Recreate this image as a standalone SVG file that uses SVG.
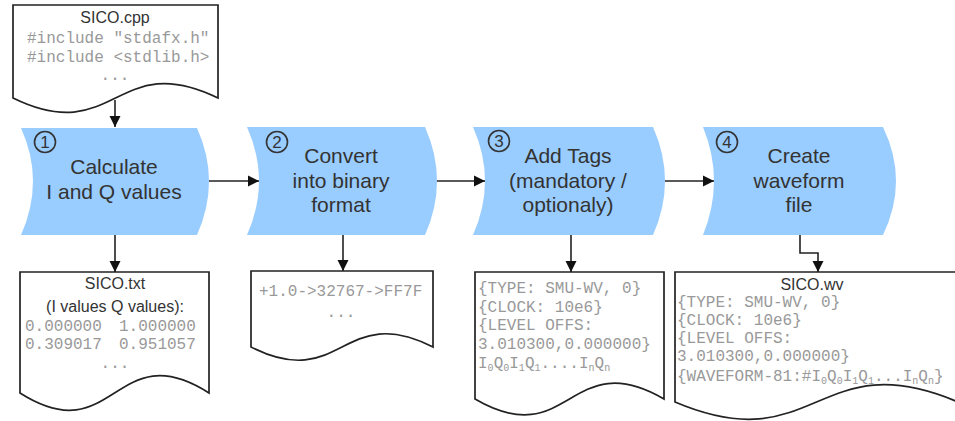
<svg xmlns="http://www.w3.org/2000/svg" width="955" height="421" viewBox="0 0 955 421">
<defs>
<style>
.step{fill:#99ccff;stroke:none}
.doc{fill:#fff;stroke:#222;stroke-width:1.7}
.lbl{font-family:"Liberation Sans",Arial,sans-serif;font-size:21px;fill:#333;text-anchor:middle}
.num{font-family:"Liberation Sans",Arial,sans-serif;font-size:17px;fill:#333;text-anchor:middle}
.ring{fill:none;stroke:#333;stroke-width:1.6}
.title{font-family:"Liberation Sans",Arial,sans-serif;font-size:16px;fill:#333;text-anchor:middle}
.mono{font-family:"Liberation Mono","Courier New",monospace;font-size:16px;fill:#999}
.sub{font-size:10px}
.conn{fill:none;stroke:#222;stroke-width:1.6}
</style>
<marker id="arr" viewBox="0 0 10 10" refX="10" refY="5" markerWidth="11" markerHeight="12" markerUnits="userSpaceOnUse" orient="auto">
<path d="M0,0 L10,5 L0,10 Z" fill="#111"/>
</marker>
</defs>
<rect width="955" height="421" fill="#fff"/>

<g id="doc-cpp">
<path class="doc" d="M13,5 H218 V98 C115.5,48 115.5,148 13,98 Z"/>
<text class="title" x="115" y="23">SICO.cpp</text>
<text class="mono" x="27" y="43" font-size="15.5">#include "stdafx.h"</text>
<text class="mono" x="27" y="62" font-size="15.5">#include &lt;stdlib.h&gt;</text>
<text class="mono" x="115" y="80" text-anchor="middle">...</text>
</g>

<g id="step1">
<path class="step" d="M21,128 H197 Q221,181 197,235 H21 Q45,181 21,128 Z"/>
<circle class="ring" cx="45" cy="142" r="10.5"/>
<text class="num" x="45" y="148">1</text>
<text class="lbl" x="114" y="174">Calculate</text>
<text class="lbl" x="114" y="199">I and Q values</text>
</g>

<g id="step2">
<path class="step" d="M247,127 H425 Q449,181 425,235 H247 Q271,181 247,127 Z"/>
<circle class="ring" cx="277" cy="142" r="10.5"/>
<text class="num" x="277" y="148">2</text>
<text class="lbl" x="341" y="163">Convert</text>
<text class="lbl" x="341" y="188">into binary</text>
<text class="lbl" x="341" y="212">format</text>
</g>

<g id="step3">
<path class="step" d="M473,127 H653 Q677,181 653,235 H473 Q497,181 473,127 Z"/>
<circle class="ring" cx="499" cy="141" r="10.5"/>
<text class="num" x="499" y="147">3</text>
<text class="lbl" x="568" y="163">Add Tags</text>
<text class="lbl" x="568" y="188">(mandatory /</text>
<text class="lbl" x="568" y="212">optionaly)</text>
</g>

<g id="step4">
<path class="step" d="M703,127 H883 Q909,181 883,235 H703 Q725,181 703,127 Z"/>
<circle class="ring" cx="727" cy="142" r="10.5"/>
<text class="num" x="727" y="148">4</text>
<text class="lbl" x="799" y="163">Create</text>
<text class="lbl" x="799" y="188">waveform</text>
<text class="lbl" x="799" y="212">file</text>
</g>

<g id="doc-txt">
<path class="doc" d="M20,272 H209 V393 C114.5,333 114.5,453 20,393 Z"/>
<text class="title" x="115" y="289">SICO.txt</text>
<text class="title" x="115" y="312">(I values Q values):</text>
<text class="mono" x="25" y="331">0.000000</text>
<text class="mono" x="119" y="331">1.000000</text>
<text class="mono" x="25" y="349">0.309017</text>
<text class="mono" x="119" y="349">0.951057</text>
<text class="mono" x="115" y="368" text-anchor="middle" font-size="12">...</text>
</g>

<g id="doc-bin">
<path class="doc" d="M251,271 H433 V347 C342,301 342,393 251,347 Z"/>
<text class="mono" x="259" y="296">+1.0-&gt;32767-&gt;FF7F</text>
<text class="mono" x="341" y="317" text-anchor="middle">...</text>
</g>

<g id="doc-tags">
<path class="doc" d="M475,272 H664 V399 C569.5,344 569.5,454 475,399 Z"/>
<text class="mono" x="478" y="293">{TYPE: SMU-WV, 0}</text>
<text class="mono" x="478" y="312">{CLOCK: 10e6}</text>
<text class="mono" x="478" y="330">{LEVEL OFFS:</text>
<text class="mono" x="478" y="349">3.010300,0.000000}</text>
<text class="mono" x="478" y="368">I<tspan class="sub" dy="3">0</tspan><tspan dy="-3">Q</tspan><tspan class="sub" dy="3">0</tspan><tspan dy="-3">I</tspan><tspan class="sub" dy="3">1</tspan><tspan dy="-3">Q</tspan><tspan class="sub" dy="3">1</tspan><tspan dy="-3">....I</tspan><tspan class="sub" dy="3">n</tspan><tspan dy="-3">Q</tspan><tspan class="sub" dy="3">n</tspan></text>
</g>

<g id="doc-wv">
<path class="doc" d="M675,272 H958 V402 C816.5,342 816.5,462 675,402 Z"/>
<text class="title" x="812" y="290">SICO.wv</text>
<text class="mono" x="677" y="307">{TYPE: SMU-WV, 0}</text>
<text class="mono" x="677" y="325">{CLOCK: 10e6}</text>
<text class="mono" x="677" y="343">{LEVEL OFFS:</text>
<text class="mono" x="677" y="361">3.010300,0.000000}</text>
<text class="mono" x="677" y="381">{WAVEFORM-81:#I<tspan class="sub" dy="3">0</tspan><tspan dy="-3">Q</tspan><tspan class="sub" dy="3">0</tspan><tspan dy="-3">I</tspan><tspan class="sub" dy="3">1</tspan><tspan dy="-3">Q</tspan><tspan class="sub" dy="3">1</tspan><tspan dy="-3">...I</tspan><tspan class="sub" dy="3">n</tspan><tspan dy="-3">Q</tspan><tspan class="sub" dy="3">n</tspan><tspan dy="-3">}</tspan></text>
</g>

<g id="connectors">
<path class="conn" d="M115,100 V127" marker-end="url(#arr)"/>
<path class="conn" d="M115,235 V272" marker-end="url(#arr)"/>
<path class="conn" d="M343,235 V271" marker-end="url(#arr)"/>
<path class="conn" d="M571,235 V272" marker-end="url(#arr)"/>
<path class="conn" d="M800,235 V253 H818 V272" marker-end="url(#arr)"/>
<path class="conn" d="M209,181 H259" marker-end="url(#arr)"/>
<path class="conn" d="M437,181 H485" marker-end="url(#arr)"/>
<path class="conn" d="M665,181 H714" marker-end="url(#arr)"/>
</g>
</svg>
